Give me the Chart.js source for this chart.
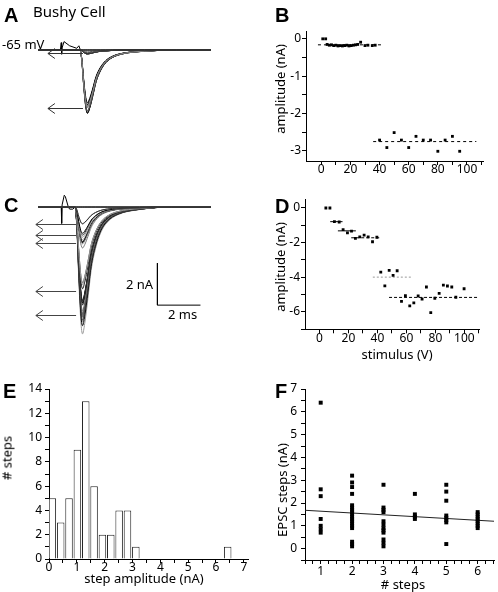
<!DOCTYPE html>
<html>
<head>
<meta charset="utf-8">
<script src="https://cdn.jsdelivr.net/npm/chart.js@4.4.1/dist/chart.umd.min.js"></script>
<style>
  body { margin: 0; background: #fff; }
  #fig { position: relative; width: 498px; height: 592px; overflow: hidden; font-family: 'Noto Sans', sans-serif; color: #000; }
  .box { position: absolute; }
  .txt { position: absolute; white-space: nowrap; line-height: 1; font-size: 13px; }
  .letter { position: absolute; line-height: 1; font-family: 'Liberation Sans', Arial, sans-serif; font-weight: bold; font-size: 20px; }
  .c { transform: translate(-50%, -50%); }
  .r { transform: translate(-50%, -50%) rotate(-90deg); }
</style>
</head>
<body>
<div id="fig">
  <div class="box" style="left:0;top:25px"><canvas id="chA" width="250" height="120"></canvas></div>
  <div class="box" style="left:250px;top:20px"><canvas id="chB" width="248" height="170"></canvas></div>
  <div class="box" style="left:0;top:170px"><canvas id="chC" width="250" height="180"></canvas></div>
  <div class="box" style="left:250px;top:190px"><canvas id="chD" width="248" height="170"></canvas></div>
  <div class="box" style="left:0;top:375px"><canvas id="chE" width="250" height="217"></canvas></div>
  <div class="box" style="left:250px;top:375px"><canvas id="chF" width="248" height="217"></canvas></div>

  <div class="letter" style="left:4px;top:5px">A</div>
  <div class="letter" style="left:275px;top:5px">B</div>
  <div class="letter" style="left:4px;top:195px">C</div>
  <div class="letter" style="left:275px;top:196px">D</div>
  <div class="letter" style="left:3px;top:381px">E</div>
  <div class="letter" style="left:275px;top:381px">F</div>

  <div class="txt" style="left:33px;top:4px;font-size:15px">Bushy Cell</div>
  <div class="txt" style="left:2px;top:38px">-65 mV</div>
  <div class="txt" style="left:126px;top:278px">2 nA</div>
  <div class="txt" style="left:168px;top:308px">2 ms</div>

  <div class="txt r" style="left:280px;top:89px">amplitude (nA)</div>
  <div class="txt r" style="left:280px;top:267px">amplitude (nA)</div>
  <div class="txt c" style="left:397px;top:354px">stimulus (V)</div>
  <div class="txt r" style="left:7px;top:458px"># steps</div>
  <div class="txt c" style="left:144px;top:578px">step amplitude (nA)</div>
  <div class="txt r" style="left:282px;top:490px">EPSC steps (nA)</div>
  <div class="txt c" style="left:403px;top:584px"># steps</div>
</div>

<script>
// ---- data ----

// B: EPSC amplitude vs stimulus strength (bushy cell A)
const bStim = [1, 3, 4, 5.5, 7, 8.5, 10, 11.5, 13, 14.5, 16, 17.5, 19, 20.5, 22, 23.5, 25,
               27, 30, 32, 35, 37, 40, 45, 50, 55, 60, 65, 70, 75, 80, 85, 90, 95];
const bAmp = [0, 0, -0.15, -0.17, -0.16, -0.18, -0.17, -0.19, -0.18, -0.19, -0.18, -0.17, -0.19, -0.18, -0.17, -0.16, -0.15,
              -0.09, -0.18, -0.17, -0.18, -0.17, -2.71, -2.91, -2.51, -2.71, -2.91, -2.61, -2.71, -2.71, -3.01, -2.71, -2.61, -3.01];
const bLevel = [-0.16, -2.75];
const bLevelFrom = [-2.3, 35.6];
const bLevelTo = [42.5, 106.4];

// D: EPSC amplitude vs stimulus strength (cell C)
const dStim = [4.4, 7.2, 10.3, 13.6, 16.3, 19.3, 22.1, 24.8, 27.8, 30.8, 33.6, 36.6, 39.6, 42.3, 45.1, 48.1, 50.8,
               53.6, 56.6, 59.3, 62.3, 65.1, 68.1, 70.8, 73.8, 76.8, 79.6, 82.6, 85.5, 88.3, 91.3, 94.1, 99.8];
const dAmp = [0, 0, -0.79, -0.81, -1.25, -1.44, -1.34, -1.75, -1.67, -1.57, -1.67, -1.95, -1.69, -3.7, -4.49, -3.6, -3.89,
              -3.62, -5.39, -5.06, -5.65, -5.48, -5.08, -5.25, -4.56, -6.04, -5.21, -4.93, -4.45, -4.5, -4.56, -5.15, -4.66];
const dLevel = [-0.79, -1.32, -1.72, -3.99, -5.16];
const dLevelFrom = [7.4, 12.7, 21.9, 36.8, 48];
const dLevelTo = [15.9, 25.1, 42.6, 63.7, 109.7];

// A / C: EPSC waveform (ms after onset, fraction of peak)
const waveT = [0, 0.08, 0.17, 0.27, 0.35, 0.45, 0.6, 0.75, 0.95, 1.2, 1.5, 2.0, 3.0, 4.5];
const waveI = [0, 0.15, 0.55, 0.9, 1, 0.92, 0.72, 0.5, 0.33, 0.2, 0.12, 0.06, 0.02, 0];
const aOnset = 0.93;
const cOnset = 0.7;
// stimulus artifacts (ms, nA)
const aArtT = [-1.02, 0.02, 0.06, 0.08, 0.1, 0.19, 0.45, 0.78, 0.88, 0.95, 7.02];
const aArtI = [0, 0, 0.35, -0.2, 0.1, 0.4, 0.2, 0.08, 0.2, 0, 0];
const cArtT = [-1.02, 0.06, 0.08, 0.1, 0.2, 0.25, 0.39, 0.45, 0.6, 0.7, 7.02];
const cArtI = [0, 0, -0.78, 0.1, 0.56, 0.5, 0, -0.1, -0.1, 0, 0];
// scale bar: 2 ms, 2 nA
const barT = [4.53, 4.53, 6.53];
const barI = [-2.67, -4.67, -4.67];

// E: histogram of step amplitudes
const eBin = [0.12, 0.42, 0.72, 1.02, 1.32, 1.62, 1.92, 2.22, 2.52, 2.82, 3.12, 6.42];
const eCount = [5, 3, 5, 9, 13, 6, 2, 2, 4, 4, 1, 1];

// F: step size vs number of steps
const fSteps = [1, 2, 3, 4, 5, 6];
const fAmps = [
  [6.4, 2.6, 2.3, 1.3, 1.0, 0.85, 0.7],
  [3.2, 2.9, 2.7, 2.4, 1.9, 1.8, 1.7, 1.6, 1.5, 1.4, 1.3, 1.2, 1.1, 1.0, 0.9, 0.3, 0.2, 0.1],
  [2.8, 1.8, 1.7, 1.6, 1.2, 1.05, 0.9, 0.8, 0.7, 0.4, 0.25, 0.1],
  [2.4, 1.5, 1.4, 1.3],
  [2.8, 2.5, 2.1, 1.45, 1.35, 1.25, 1.15, 0.2],
  [1.6, 1.5, 1.4, 1.3, 1.2, 1.1, 1.0, 0.9]
];
const fFitX = [0.5, 6.52];
const fFitY = [1.68, 1.2];

// tick marks / labels
const bTicksX = [0, 10, 20, 30, 40, 50, 60, 70, 80, 90, 100, 110];
const bLabelsX = [0, 20, 40, 60, 80, 100];
const bTicksY = [0, -0.5, -1, -1.5, -2, -2.5, -3];
const bLabelsY = [0, -1, -2, -3];
const dTicksY = [0, -1, -2, -3, -4, -5, -6, -7];
const dLabelsY = [0, -2, -4, -6];
const eTicksX = [0, 0.5, 1, 1.5, 2, 2.5, 3, 3.5, 4, 4.5, 5, 5.5, 6, 6.5, 7];
const eLabelsX = [0, 1, 2, 3, 4, 5, 6, 7];
const eTicksY = [0, 1, 2, 3, 4, 5, 6, 7, 8, 9, 10, 11, 12, 13, 14];
const eLabelsY = [0, 2, 4, 6, 8, 10, 12, 14];
const fTicksX = [0.5, 0.75, 1, 1.25, 1.5, 1.75, 2, 2.25, 2.5, 2.75, 3, 3.25, 3.5, 3.75, 4, 4.25, 4.5, 4.75, 5, 5.25, 5.5, 5.75, 6, 6.25, 6.5];
const fLabelsX = [1, 2, 3, 4, 5, 6];
const fTicksY = [-0.5, 0, 0.5, 1, 1.5, 2, 2.5, 3, 3.5, 4, 4.5, 5, 5.5, 6, 6.5, 7];
const fLabelsY = [0, 1, 2, 3, 4, 5, 6, 7];

// ---- helpers ----
Chart.defaults.font.family = "'Noto Sans', sans-serif";
Chart.defaults.font.size = 12;
Chart.defaults.color = '#000';
Chart.defaults.animation = false;
Chart.defaults.plugins.legend.display = false;
Chart.defaults.plugins.tooltip.enabled = false;

function axis(o) {
  return {
    type: 'linear', min: o.min, max: o.max, offset: false,
    border: { color: '#000', width: 1 },
    grid: { drawOnChartArea: false, offset: false, color: '#000', tickColor: '#000', tickLength: 4, tickWidth: 1 },
    ticks: {
      color: '#000', padding: o.pad, autoSkip: false, maxRotation: 0, minRotation: 0,
      callback: v => (o.labels.includes(v) ? String(v) : '')
    },
    afterBuildTicks: s => { s.ticks = o.ticks.map(v => ({ value: v })); },
    afterFit: s => { if (s.isHorizontal()) s.height = o.size; else s.width = o.size; }
  };
}

function hidden(min, max) {
  return { type: 'linear', display: false, min: min, max: max };
}

function xy(xs, ys) {
  return xs.map((x, i) => ({ x: x, y: ys[i] }));
}

function levelSets(levels, from, to, colors, dashes) {
  return levels.map((lv, i) => ({
    data: [{ x: from[i], y: lv }, { x: to[i], y: lv }],
    showLine: true, pointRadius: 0, borderWidth: 1,
    borderColor: colors[i % colors.length], borderDash: dashes[i % dashes.length]
  }));
}

// one recorded trace per stimulus: the read waveform scaled to that trial's amplitude
function traceSets(amps, onset, colors) {
  return amps.map((a, i) => ({
    data: [{ x: -1.02, y: 0 }]
      .concat(waveT.map((t, k) => ({ x: onset + t, y: a * waveI[k] })))
      .concat([{ x: 7.02, y: 0 }]),
    borderColor: colors[i % colors.length], borderWidth: 1, pointRadius: 0,
    cubicInterpolationMode: 'monotone', fill: false
  }));
}

// arrows pointing at the step levels in the trace panels
const arrowPlugin = {
  id: 'levelArrows',
  afterDatasetsDraw(chart, args, opts) {
    if (!opts.levels) return;
    const { ctx } = chart;
    const x = chart.scales.x, y = chart.scales.y;
    const x0 = x.getPixelForValue(opts.from);
    const x1 = x.getPixelForValue(opts.to);
    ctx.save();
    ctx.lineWidth = 1;
    ctx.strokeStyle = opts.color;
    opts.levels.forEach(lv => {
      const py = Math.round(y.getPixelForValue(lv)) + 0.5;
      ctx.beginPath();
      ctx.moveTo(x1, py);
      ctx.lineTo(x0, py);
      ctx.moveTo(x0 + 7, py - 5);
      ctx.lineTo(x0, py);
      ctx.lineTo(x0 + 7, py + 5);
      ctx.stroke();
    });
    ctx.restore();
  }
};
Chart.register(arrowPlugin);

// ---- A: traces, bushy cell ----
new Chart(document.getElementById('chA'), {
  type: 'line',
  data: {
    datasets: traceSets(bAmp, aOnset, ['#000', '#888', '#555']).concat([{
      data: xy(aArtT, aArtI), borderColor: '#000', borderWidth: 1, pointRadius: 0, tension: 0
    }])
  },
  options: {
    responsive: false,
    layout: { padding: { left: 38, right: 39, top: 5, bottom: 15 } },
    scales: { x: hidden(-1.02, 7.02), y: hidden(-3.81, 0.952) },
    plugins: { levelArrows: { levels: bLevel, from: -0.56, to: 1.07, color: '#333' } }
  }
});

// ---- B: amplitude vs stimulus ----
new Chart(document.getElementById('chB'), {
  type: 'scatter',
  data: {
    datasets: [{
      data: xy(bStim, bAmp), pointStyle: 'rect', pointRadius: 2, backgroundColor: '#000', borderWidth: 0
    }].concat(levelSets(bLevel, bLevelFrom, bLevelTo, ['#000'], [[3, 3]]))
  },
  options: {
    responsive: false,
    layout: { padding: { left: 0, right: 15, top: 11, bottom: 0 } },
    scales: {
      x: axis({ min: -10.5, max: 111, ticks: bTicksX, labels: bLabelsX, pad: -3, size: 29 }),
      y: axis({ min: -3.27, max: 0.21, ticks: bTicksY, labels: bLabelsY, pad: 1, size: 56 })
    }
  }
});

// ---- C: traces ----
new Chart(document.getElementById('chC'), {
  type: 'line',
  data: {
    datasets: traceSets(dAmp, cOnset, ['#000', '#999', '#333', '#777']).concat([
      { data: xy(cArtT, cArtI), borderColor: '#000', borderWidth: 1, pointRadius: 0, tension: 0 },
      { data: xy(barT, barI), borderColor: '#000', borderWidth: 1, pointRadius: 0, tension: 0 }
    ])
  },
  options: {
    responsive: false,
    layout: { padding: { left: 38, right: 39, top: 10, bottom: 10 } },
    scales: { x: hidden(-1.02, 7.02), y: hidden(-6.33, 1.286) },
    plugins: { levelArrows: { levels: dLevel, from: -1.12, to: 0.75, color: '#444' } }
  }
});

// ---- D: amplitude vs stimulus ----
new Chart(document.getElementById('chD'), {
  type: 'scatter',
  data: {
    datasets: [{
      data: xy(dStim, dAmp), pointStyle: 'rect', pointRadius: 2, backgroundColor: '#000', borderWidth: 0
    }].concat(levelSets(dLevel, dLevelFrom, dLevelTo,
      ['#000', '#000', '#000', '#999', '#000'], [[], [], [3, 2], [2, 2], [3, 2]]))
  },
  options: {
    responsive: false,
    layout: { padding: { left: 0, right: 18.7, top: 9.3, bottom: 0 } },
    scales: {
      x: axis({ min: -10, max: 110.3, ticks: bTicksX, labels: bLabelsX, pad: -2, size: 30.7 }),
      y: axis({ min: -7, max: 0.5, ticks: dTicksY, labels: dLabelsY, pad: 1, size: 55 })
    }
  }
});

// ---- E: histogram ----
new Chart(document.getElementById('chE'), {
  type: 'bar',
  data: {
    datasets: [{
      data: xy(eBin, eCount), backgroundColor: '#fff', borderColor: '#222', borderWidth: 1,
      barPercentage: 0.9, categoryPercentage: 1
    }]
  },
  options: {
    responsive: false,
    layout: { padding: { left: 0, right: 2, top: 14, bottom: 0 } },
    scales: {
      x: axis({ min: 0, max: 7.15, ticks: eTicksX, labels: eLabelsX, pad: -3, size: 33 }),
      y: axis({ min: 0, max: 14, ticks: eTicksY, labels: eLabelsY, pad: 3, size: 49 })
    }
  }
});

// ---- F: step size vs number of steps ----
const fPoints = [];
fSteps.forEach((n, i) => fAmps[i].forEach(v => fPoints.push({ x: n, y: v })));
new Chart(document.getElementById('chF'), {
  type: 'scatter',
  data: {
    datasets: [
      { data: fPoints, pointStyle: 'rect', pointRadius: 2.8, backgroundColor: '#000', borderWidth: 0 },
      { data: xy(fFitX, fFitY), showLine: true, pointRadius: 0, borderColor: '#222', borderWidth: 1 }
    ]
  },
  options: {
    responsive: false,
    layout: { padding: { left: 0, right: 0.3, top: 14, bottom: 0 } },
    scales: {
      x: axis({ min: 0.5, max: 6.52, ticks: fTicksX, labels: fLabelsX, pad: 0, size: 32 }),
      y: axis({ min: -0.5, max: 7, ticks: fTicksY, labels: fLabelsY, pad: 4, size: 55 })
    }
  }
});
</script>
</body>
</html>
